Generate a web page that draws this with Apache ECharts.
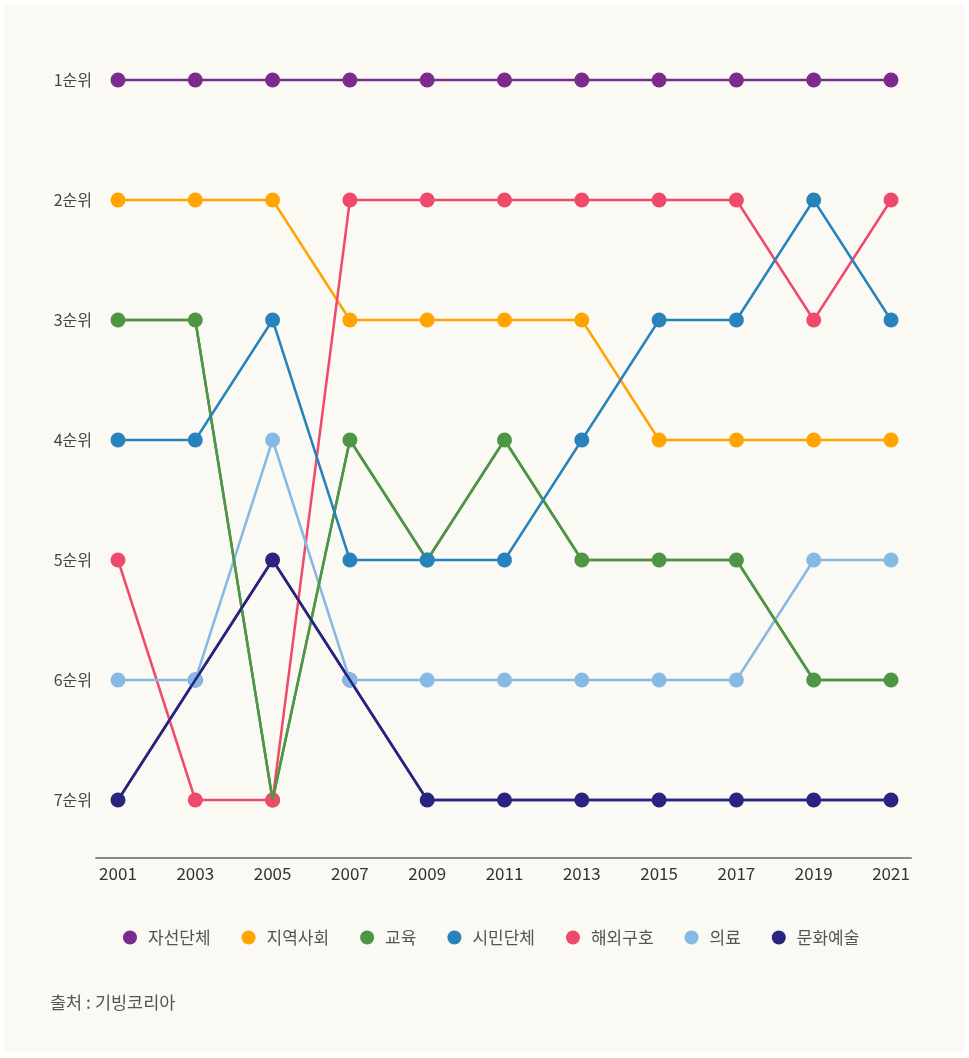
<!DOCTYPE html>
<html><head><meta charset="utf-8">
<script src="https://cdn.jsdelivr.net/npm/echarts@6/dist/echarts.min.js"></script>
<style>
html,body{margin:0;padding:0;background:#ffffff;}
#bg{position:absolute;left:4px;top:5px;width:961px;height:1048px;background:#faf9f3;}
#chart{position:absolute;left:0;top:0;width:969px;height:1058px;}
</style></head>
<body><div id="bg"></div><div id="chart"></div>
<script>
const years = [2001,2003,2005,2007,2009,2011,2013,2015,2017,2019,2021];
const rankLabels = [1,2,3,4,5,6,7];
const seriesNames = ['자선단체','지역사회','교육','시민단체','해외구호','의료','문화예술'];
const charity   = [1,1,1,1,1,1,1,1,1,1,1];
const community = [2,2,2,3,3,3,3,4,4,4,4];
const education = [3,3,7,4,5,4,5,5,5,6,6];
const civic     = [4,4,3,5,5,5,4,3,3,2,3];
const overseas  = [5,7,7,2,2,2,2,2,2,3,2];
const medical   = [6,6,4,6,6,6,6,6,6,5,5];
const culture   = [7,6,5,6,7,7,7,7,7,7,7];
const seriesData = [charity, community, education, civic, overseas, medical, culture];
const colors = ['#7b2a8e','#ffa400','#4e9545','#2883bd','#ef4a6b','#86b9e4','#29247f'];
const zs = [2,2,2,5,3,3,2];
// line-only overlays drawn above some neighbours' dots (as in the source)
const overlays = [{idx:2,z:4},{idx:6,z:6}];

const chart = echarts.init(document.getElementById('chart'));
const font = '"Noto Sans CJK KR","Noto Sans",sans-serif';
const toPts = arr => years.map((y,j)=>[y,arr[j]]);
const series = seriesNames.map((n,i)=>({
  name:n,type:'line',z:zs[i],
  data:toPts(seriesData[i]),
  symbol:'circle',symbolSize:15,
  itemStyle:{color:colors[i]},
  lineStyle:{color:colors[i],width:2.5},
  emphasis:{disabled:true}
}));
overlays.forEach(o=>{
  series.push({
    name:seriesNames[o.idx],type:'line',z:o.z,
    data:toPts(seriesData[o.idx]),
    showSymbol:false,symbol:'none',
    itemStyle:{color:colors[o.idx]},
    lineStyle:{color:colors[o.idx],width:2.5},
    emphasis:{disabled:true}
  });
});
chart.setOption({
  animation:false,
  backgroundColor:'transparent',
  textStyle:{fontFamily:font},
  grid:{left:96,right:58,top:20,bottom:200},
  xAxis:{type:'value',min:2000.431,max:2021.517,
    axisLine:{show:true,lineStyle:{color:'#8a8985',width:2}},
    axisTick:{show:false},splitLine:{show:false},
    axisLabel:{customValues:years,color:'#333',fontSize:17,margin:7,fontFamily:font,formatter:v=>String(v)}},
  yAxis:{type:'value',inverse:true,min:0.5,max:7.4833,
    axisLine:{show:false},axisTick:{show:false},splitLine:{show:false},
    axisLabel:{customValues:rankLabels,color:'#444',fontSize:16,margin:4,fontFamily:font,formatter:v=>v+'순위'}},
  legend:{bottom:107,left:118,itemWidth:14,itemHeight:14,itemGap:31,icon:'circle',
    data:seriesNames,
    textStyle:{color:'#555',fontSize:17,padding:[0,0,0,6],fontFamily:font}},
  graphic:[{type:'text',left:50,top:994,style:{text:'출처 : 기빙코리아',fill:'#555',font:'17.5px '+font}}],
  series:series
});
</script></body></html>
